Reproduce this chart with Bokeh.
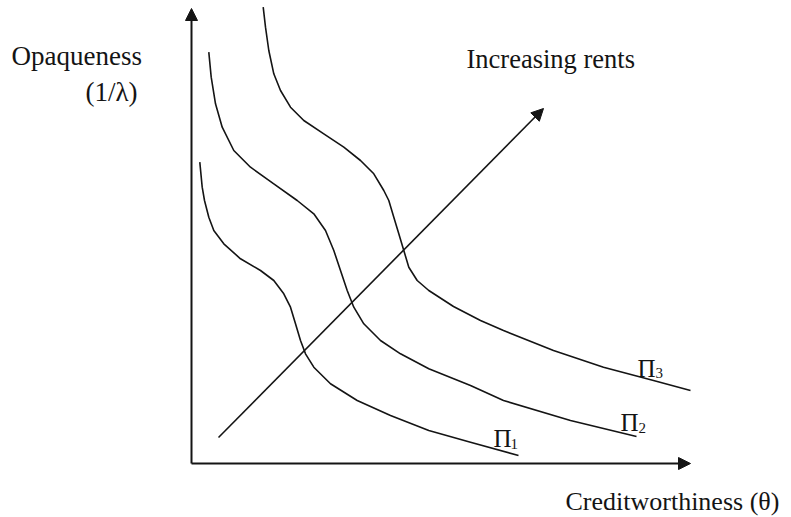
from bokeh.plotting import figure
from bokeh.models import Range1d, Arrow, NormalHead, Label
from bokeh.embed import file_html
from bokeh.resources import INLINE

# Iso-rent curves (schematic) (x right, y downward as on page)
pi1_x = [199.3, 201.7, 204.0, 208.3, 213.3, 223.3, 240.0, 260.0, 273.3, 283.3, 290.0, 295.0, 300.0, 305.0, 313.3, 330.0, 356.7, 390.0, 428.3, 470.0, 518.0]
pi1_y = [161.7, 186.7, 200.0, 216.7, 230.0, 243.3, 258.3, 270.0, 280.0, 293.3, 306.7, 323.3, 340.0, 353.3, 366.7, 383.3, 400.0, 415.0, 430.0, 441.7, 455.0]

pi2_x = [208.3, 210.7, 215.0, 221.7, 233.3, 250.0, 273.3, 296.7, 313.3, 325.0, 333.3, 340.0, 346.7, 353.3, 363.3, 380.0, 400.0, 428.3, 470.0, 503.0, 570.0, 636.0]
pi2_y = [51.7, 76.7, 103.3, 126.7, 150.0, 166.7, 183.3, 200.0, 213.3, 230.0, 250.0, 270.0, 290.0, 306.7, 323.3, 340.0, 353.3, 368.3, 385.0, 400.0, 420.0, 436.0]

pi3_x = [262.7, 265.0, 268.3, 273.3, 280.0, 290.0, 303.3, 323.3, 343.3, 360.0, 373.3, 383.3, 388.3, 393.3, 398.3, 403.3, 408.3, 416.7, 428.3, 453.0, 480.0, 503.0, 553.0, 603.0, 653.0, 690.0]
pi3_y = [6.7, 26.7, 50.0, 73.3, 90.0, 106.7, 120.0, 133.3, 146.7, 160.0, 173.3, 190.0, 200.0, 216.7, 233.3, 250.0, 266.7, 280.0, 290.0, 306.0, 320.0, 330.0, 350.0, 366.7, 380.0, 390.0]

curve_names = ["Π", "Π", "Π"]
curve_subs = ["1", "2", "3"]

y_label = "Opaqueness"
y_label2 = "(1/λ)"
x_label = "Creditworthiness (θ)"
arrow_label = "Increasing rents"

W, H = 790, 516
p = figure(width=W, height=H, output_backend="svg", toolbar_location=None,
           x_range=Range1d(0, W), y_range=Range1d(H, 0),
           min_border=0, min_border_left=0, min_border_right=0,
           min_border_top=0, min_border_bottom=0)
p.axis.visible = False
p.grid.visible = False
p.outline_line_color = None
p.background_fill_color = "white"
p.border_fill_color = "white"

ink = "#141414"
for xs, ys in [(pi1_x, pi1_y), (pi2_x, pi2_y), (pi3_x, pi3_y)]:
    p.line(xs, ys, line_color=ink, line_width=1.6, line_join="round")

# axes
p.add_layout(Arrow(end=NormalHead(size=12, fill_color=ink, line_color=ink),
                   x_start=191, y_start=463, x_end=191, y_end=8,
                   line_color=ink, line_width=2))
p.add_layout(Arrow(end=NormalHead(size=12, fill_color=ink, line_color=ink),
                   x_start=191, y_start=463, x_end=690, y_end=463,
                   line_color=ink, line_width=2))
# increasing rents arrow
p.add_layout(Arrow(end=NormalHead(size=12, fill_color=ink, line_color=ink),
                   x_start=218, y_start=437, x_end=543, y_end=108,
                   line_color=ink, line_width=1.6))

font = "Liberation Serif"
def lab(x, y, t, size):
    p.add_layout(Label(x=x, y=y, text=t, text_font=font, text_font_size=size,
                       text_color=ink, text_baseline="alphabetic", text_align="left"))

lab(11, 55, y_label, "27px")
lab(85, 91, y_label2, "27px")
lab(466, 58, arrow_label, "26.5px")
lab(565, 501, x_label, "26px")

pi_pos = [(493, 438, 510, 443), (620, 422, 638, 427), (637, 368, 655, 372)]
for name, sub, (px, py, sx, sy) in zip(curve_names, curve_subs, pi_pos):
    lab(px, py, name, "25px")
    lab(sx, sy, sub, "15px")

open("out.html", "w").write(file_html(p, INLINE))
